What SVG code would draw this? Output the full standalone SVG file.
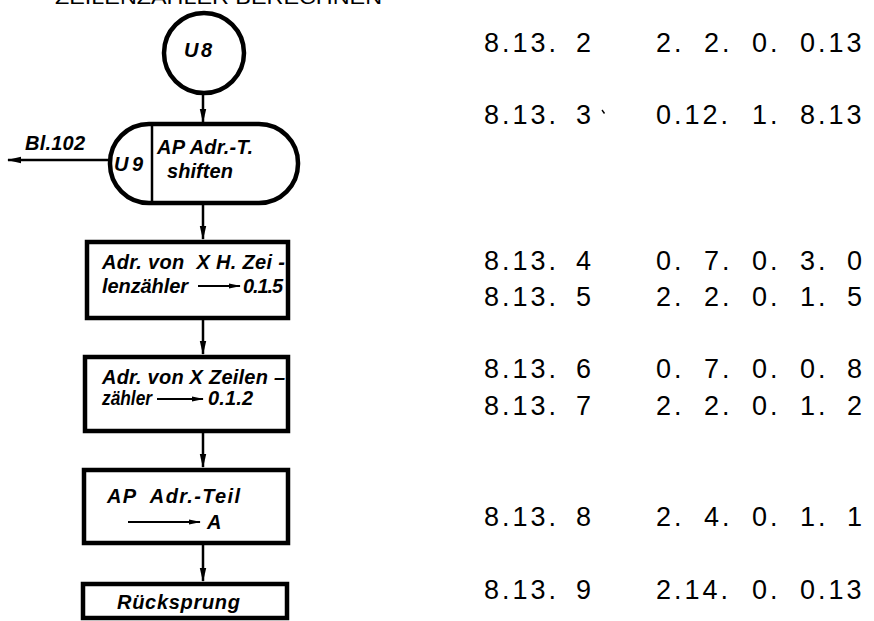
<svg xmlns="http://www.w3.org/2000/svg" width="874" height="621" viewBox="0 0 874 621">
  <style>
    .box { fill: #fff; stroke: #000; stroke-width: 4.5; }
    .thin { fill: none; stroke: #000; stroke-width: 2.5; }
    .lbl { font-family: "Liberation Sans", Arial, sans-serif; font-style: italic; font-weight: bold; font-size: 20px; fill: #000; }
    .num { font-family: "Liberation Sans", Arial, sans-serif; font-size: 27px; fill: #000; letter-spacing: 3px; }
    .ttl { font-family: "Liberation Sans", Arial, sans-serif; font-size: 20px; fill: #000; }
    .conn line { stroke: #000; stroke-width: 2.5; }
  </style>
  <defs>
    <marker id="ah" markerWidth="14" markerHeight="8" refX="13" refY="4" orient="auto" markerUnits="userSpaceOnUse">
      <path d="M0,0.8 L14,4 L0,7.2 Z" fill="#000"/>
    </marker>
    <marker id="ahs" markerWidth="12" markerHeight="6" refX="11" refY="3" orient="auto" markerUnits="userSpaceOnUse">
      <path d="M0,0.5 L12,3 L0,5.5 Z" fill="#000"/>
    </marker>
  </defs>
  <rect width="874" height="621" fill="#fff"/>

  <!-- heading, cut at the top edge -->
  <text class="ttl" x="55" y="4" textLength="327" lengthAdjust="spacingAndGlyphs">ZEILENZÄHLER BERECHNEN</text>

  <!-- connectors -->
  <g id="connectors" class="conn">
    <line x1="203" y1="95" x2="203" y2="122" marker-end="url(#ah)"/>
    <line x1="203" y1="205" x2="203" y2="239" marker-end="url(#ah)"/>
    <line x1="203" y1="320" x2="203" y2="354" marker-end="url(#ah)"/>
    <line x1="203" y1="433" x2="203" y2="467" marker-end="url(#ah)"/>
    <line x1="203" y1="545" x2="203" y2="581" marker-end="url(#ah)"/>
    <line x1="110" y1="160" x2="8" y2="160" marker-end="url(#ah)"/>
    <text class="lbl" x="25" y="150" font-size="19" textLength="60" lengthAdjust="spacing">Bl.102</text>
  </g>

  <!-- entry connector U8 -->
  <g id="u8">
    <circle cx="204" cy="53" r="40" class="box"/>
    <text class="lbl" x="184" y="57" font-size="19" textLength="28" lengthAdjust="spacing">U8</text>
  </g>

  <!-- subroutine U9 -->
  <g id="u9">
    <rect x="110" y="124" width="188" height="79" rx="39" ry="39" class="box"/>
    <line x1="152" y1="124" x2="152" y2="203" class="thin"/>
    <text class="lbl" x="114" y="171" font-size="21" textLength="29" lengthAdjust="spacing">U9</text>
    <text class="lbl" x="157" y="154" textLength="96" lengthAdjust="spacing">AP Adr.-T.</text>
    <text class="lbl" x="167" y="178" textLength="66" lengthAdjust="spacing">shiften</text>
  </g>

  <!-- step 8.13.4/5 -->
  <g id="step1">
    <rect x="87" y="242" width="201" height="76" class="box"/>
    <text class="lbl" x="102" y="269" textLength="183" lengthAdjust="spacing" xml:space="preserve">Adr. von  X H. Zei -</text>
    <text class="lbl" x="102" y="293" textLength="86" lengthAdjust="spacing">lenzähler</text>
    <line x1="198" y1="286" x2="240" y2="286" stroke="#000" stroke-width="2" marker-end="url(#ahs)"/>
    <text class="lbl" x="243" y="293" textLength="40" lengthAdjust="spacing">0.1.5</text>
  </g>

  <!-- step 8.13.6/7 -->
  <g id="step2">
    <rect x="85" y="357" width="203" height="74" class="box"/>
    <text class="lbl" x="102" y="384" textLength="183" lengthAdjust="spacing">Adr. von X Zeilen –</text>
    <text class="lbl" x="102" y="405" textLength="50" lengthAdjust="spacingAndGlyphs">zähler</text>
    <line x1="157" y1="399" x2="203" y2="399" stroke="#000" stroke-width="2" marker-end="url(#ahs)"/>
    <text class="lbl" x="208" y="405" textLength="45" lengthAdjust="spacing">0.1.2</text>
  </g>

  <!-- step 8.13.8 -->
  <g id="step3">
    <rect x="84" y="470" width="204" height="73" class="box"/>
    <text class="lbl" x="107" y="503" textLength="133" lengthAdjust="spacing" xml:space="preserve">AP  Adr.-Teil</text>
    <line x1="128" y1="522" x2="200" y2="522" stroke="#000" stroke-width="1.8" marker-end="url(#ahs)"/>
    <text class="lbl" x="207" y="529">A</text>
  </g>

  <!-- return 8.13.9 -->
  <g id="step4">
    <rect x="83" y="584" width="204" height="34" class="box"/>
    <text class="lbl" x="117" y="609" textLength="123" lengthAdjust="spacing">Rücksprung</text>
  </g>

  <!-- address / instruction listing -->
  <g id="listing">
    <text class="num" x="484" y="52">8.13.</text><text class="num" x="576" y="52">2</text>
    <text class="num" x="656" y="52">2.</text><text class="num" x="704" y="52">2.</text><text class="num" x="752" y="52">0.</text><text class="num" x="800" y="52">0.13</text>

    <text class="num" x="484" y="124">8.13.</text><text class="num" x="576" y="124">3</text>
    <line x1="602" y1="110" x2="604.5" y2="113.5" stroke="#000" stroke-width="1.4"/>
    <text class="num" x="656" y="124">0.12.</text><text class="num" x="752" y="124">1.</text><text class="num" x="800" y="124">8.13</text>

    <text class="num" x="484" y="270">8.13.</text><text class="num" x="576" y="270">4</text>
    <text class="num" x="656" y="270">0.</text><text class="num" x="704" y="270">7.</text><text class="num" x="752" y="270">0.</text><text class="num" x="800" y="270">3.</text><text class="num" x="847" y="270">0</text>

    <text class="num" x="484" y="306">8.13.</text><text class="num" x="576" y="306">5</text>
    <text class="num" x="656" y="306">2.</text><text class="num" x="704" y="306">2.</text><text class="num" x="752" y="306">0.</text><text class="num" x="800" y="306">1.</text><text class="num" x="847" y="306">5</text>

    <text class="num" x="484" y="378">8.13.</text><text class="num" x="576" y="378">6</text>
    <text class="num" x="656" y="378">0.</text><text class="num" x="704" y="378">7.</text><text class="num" x="752" y="378">0.</text><text class="num" x="800" y="378">0.</text><text class="num" x="847" y="378">8</text>

    <text class="num" x="484" y="415">8.13.</text><text class="num" x="576" y="415">7</text>
    <text class="num" x="656" y="415">2.</text><text class="num" x="704" y="415">2.</text><text class="num" x="752" y="415">0.</text><text class="num" x="800" y="415">1.</text><text class="num" x="847" y="415">2</text>

    <text class="num" x="484" y="526">8.13.</text><text class="num" x="576" y="526">8</text>
    <text class="num" x="656" y="526">2.</text><text class="num" x="704" y="526">4.</text><text class="num" x="752" y="526">0.</text><text class="num" x="800" y="526">1.</text><text class="num" x="847" y="526">1</text>

    <text class="num" x="484" y="599">8.13.</text><text class="num" x="576" y="599">9</text>
    <text class="num" x="656" y="599">2.14.</text><text class="num" x="752" y="599">0.</text><text class="num" x="800" y="599">0.13</text>
  </g>
</svg>
